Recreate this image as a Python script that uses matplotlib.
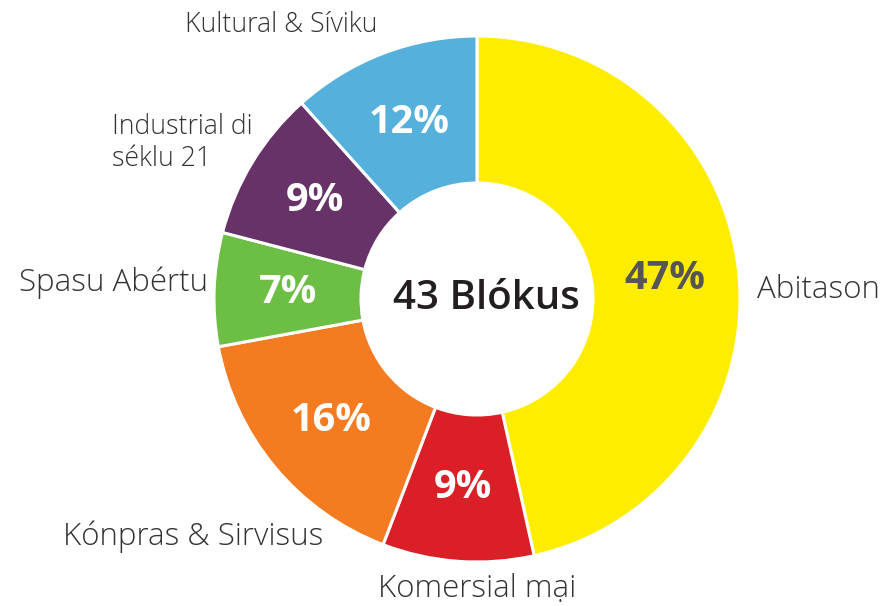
import matplotlib.pyplot as plt

# %% data
labels = ["Abitason", "Komersial mại", "Kónpras & Sirvisus", "Spasu Abértu",
          "Industrial di\nséklu 21", "Kultural & Síviku"]
counts = [20, 4, 7, 3, 4, 5]
colors = ["#ffed00", "#da1f26", "#f47b20", "#6cbe45", "#663268", "#55b0dc"]
pct_colors = ["#555555", "white", "white", "white", "white", "white"]
center_text = "43 Blókus"

# %% layout (pixel coords, y from top)
W, H = 882, 606
CX, CY = 477, 299
R_OUT, R_IN = 263, 116
label_pos = [(757, 290, "left", 22.5), (477, 588, "center", 22.5),
             (323, 537, "right", 22.5), (208, 283, "right", 22.5),
             (112, 143, "left", 19.2), (377, 25, "right", 19.2)]

plt.rcParams['font.family'] = ['Open Sans', 'DejaVu Sans']

fig = plt.figure(figsize=(W / 100, H / 100), dpi=100)
ax = fig.add_axes([0, 0, 1, 1])

wedges, _, autotexts = ax.pie(
    counts,
    colors=colors,
    startangle=90,
    counterclock=False,
    center=(CX, H - CY),
    radius=R_OUT,
    autopct=lambda p: f"{p:.0f}%",
    pctdistance=(R_OUT + R_IN) / 2 / R_OUT,
    wedgeprops=dict(width=R_OUT - R_IN, edgecolor="white", linewidth=2.2),
    textprops=dict(fontsize=28.5, fontweight="bold"),
)
for t, c in zip(autotexts, pct_colors):
    t.set_color(c)

ax.set_xlim(0, W)
ax.set_ylim(0, H)
ax.axis("off")

# centre label sits a little right of the ring centre in the original
ax.text(CX + 9, H - CY, center_text, ha="center", va="center",
        fontsize=29, fontweight="semibold", color="#231f20")

for lab, (x, y, ha, fs) in zip(labels, label_pos):
    ax.text(x, H - y, lab, ha=ha, va="center", fontsize=fs,
            color="#333333", fontweight="light", linespacing=1.2)

fig.savefig("out.png", dpi=100)
